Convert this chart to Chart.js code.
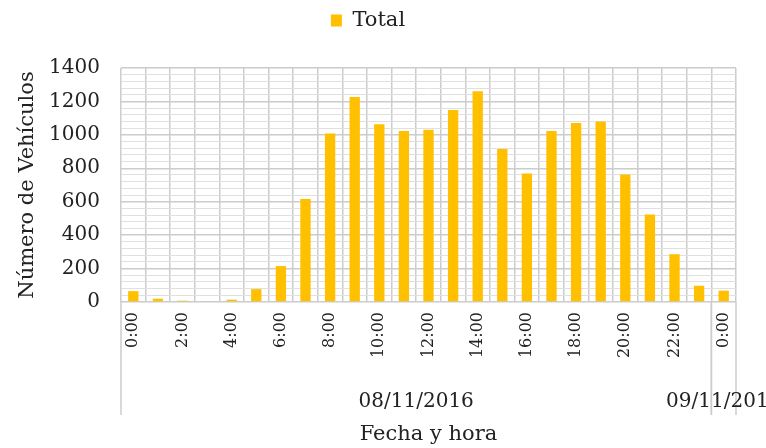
<!DOCTYPE html>
<html>
<head>
<meta charset="utf-8">
<script src="https://cdn.jsdelivr.net/npm/chart.js@4.4.1/dist/chart.umd.min.js"></script>
<style>
    html, body { margin: 0; padding: 0; background: #fff; }
    #contenedor { width: 766px; height: 448px; }
</style>
</head>
<body>
<div id="contenedor"><canvas id="graficoVehiculos"></canvas></div>
<script>
const horas = ['0:00', '1:00', '2:00', '3:00', '4:00', '5:00', '6:00', '7:00', '8:00', '9:00',
    '10:00', '11:00', '12:00', '13:00', '14:00', '15:00', '16:00', '17:00', '18:00', '19:00',
    '20:00', '21:00', '22:00', '23:00', '0:00'];
const fechas = ['08/11/2016', '09/11/2016'];
const horasPorFecha = [24, 1];
const totales = [65, 20, 8, 0, 14, 77, 215, 616, 1008, 1226, 1063, 1023, 1030, 1148, 1261, 916,
    769, 1023, 1071, 1080, 763, 524, 286, 97, 68];
const ticksY = [0, 200, 400, 600, 800, 1000, 1200, 1400];

const colorTexto = '#222222';
const colorRejilla = '#cccccc';
const fuente = 'DejaVu Serif';

// deja aire entre la leyenda y el área del gráfico
const espacioLeyenda = {
    id: 'espacioLeyenda',
    beforeInit: function (chart) {
        const fitOriginal = chart.legend.fit;
        chart.legend.fit = function () {
            fitOriginal.bind(chart.legend)();
            this.height += 27;
        };
    }
};

// segunda fila del eje X: fechas y separadores
const grupoFechas = {
    id: 'grupoFechas',
    afterDraw: function (chart) {
        const ctx = chart.ctx;
        const x = chart.scales.x;
        const abajo = chart.chartArea.bottom;
        const ancho = (x.right - x.left) / horas.length;
        ctx.save();
        ctx.strokeStyle = colorRejilla;
        ctx.lineWidth = 1.5;
        ctx.fillStyle = colorTexto;
        ctx.font = '20px "' + fuente + '"';
        ctx.textAlign = 'center';
        ctx.textBaseline = 'middle';
        let inicio = 0;
        horasPorFecha.forEach(function (n, g) {
            const x0 = x.getPixelForValue(inicio) - ancho / 2;
            const x1 = x.getPixelForValue(inicio + n - 1) + ancho / 2;
            [x0, x1].forEach(function (px) {
                ctx.beginPath();
                ctx.moveTo(px, abajo);
                ctx.lineTo(px, abajo + 113);
                ctx.stroke();
            });
            ctx.fillText(fechas[g], (x0 + x1) / 2, abajo + 100);
            inicio += n;
        });
        ctx.restore();
    }
};

const ctxVehiculos = document.getElementById('graficoVehiculos').getContext('2d');
const graficoVehiculos = new Chart(ctxVehiculos, {
    type: 'bar',
    data: {
        labels: horas,
        datasets: [{
            label: 'Total',
            data: totales,
            backgroundColor: '#FFC000',
            borderWidth: 0,
            barPercentage: 0.42,
            categoryPercentage: 1
        }]
    },
    plugins: [espacioLeyenda, grupoFechas],
    options: {
        responsive: true,
        maintainAspectRatio: false,
        animation: false,
        layout: {
            padding: { left: 0, right: 30, top: 0, bottom: 0 }
        },
        scales: {
            x: {
                offset: true,
                grid: {
                    offset: true,
                    color: colorRejilla,
                    lineWidth: 1.5,
                    drawTicks: false
                },
                border: { display: false },
                ticks: {
                    autoSkip: false,
                    minRotation: 90,
                    maxRotation: 90,
                    padding: 10,
                    color: colorTexto,
                    font: { family: fuente, size: 16 },
                    callback: function (value, index) {
                        return index % 2 === 0 ? horas[index] : '';
                    }
                },
                title: {
                    display: true,
                    text: 'Fecha y hora',
                    color: colorTexto,
                    font: { family: fuente, size: 21 },
                    padding: { top: 0, bottom: 1 }
                },
                afterFit: function (scale) {
                    scale.height = 146;
                }
            },
            y: {
                min: ticksY[0],
                max: ticksY[ticksY.length - 1],
                grid: {
                    color: colorRejilla,
                    lineWidth: 1.5,
                    drawTicks: false
                },
                border: { display: false },
                ticks: {
                    stepSize: ticksY[1] - ticksY[0],
                    padding: 21,
                    color: colorTexto,
                    font: { family: fuente, size: 20 },
                    callback: function (value) {
                        return String(value);
                    }
                },
                title: {
                    display: true,
                    text: 'Número de Vehículos',
                    color: colorTexto,
                    font: { family: fuente, size: 21 },
                    padding: { top: 15, bottom: 0 }
                },
                afterFit: function (scale) {
                    scale.width = 121;
                }
            },
            yMenor: {
                position: 'right',
                min: ticksY[0],
                max: ticksY[ticksY.length - 1],
                grid: {
                    color: function (context) {
                        return context.tick && context.tick.value % 200 === 0 ? 'rgba(0,0,0,0)' : '#e0e0e0';
                    },
                    lineWidth: 1,
                    borderDash: [2, 2],
                    drawTicks: false
                },
                border: { display: false },
                ticks: { display: false, stepSize: 40 },
                afterFit: function (scale) {
                    scale.width = 0;
                }
            }
        },
        plugins: {
            legend: {
                position: 'top',
                labels: {
                    boxWidth: 11,
                    boxHeight: 12,
                    padding: 10,
                    color: colorTexto,
                    font: { family: fuente, size: 21 }
                }
            },
            tooltip: { enabled: false }
        }
    }
});
</script>
</body>
</html>
